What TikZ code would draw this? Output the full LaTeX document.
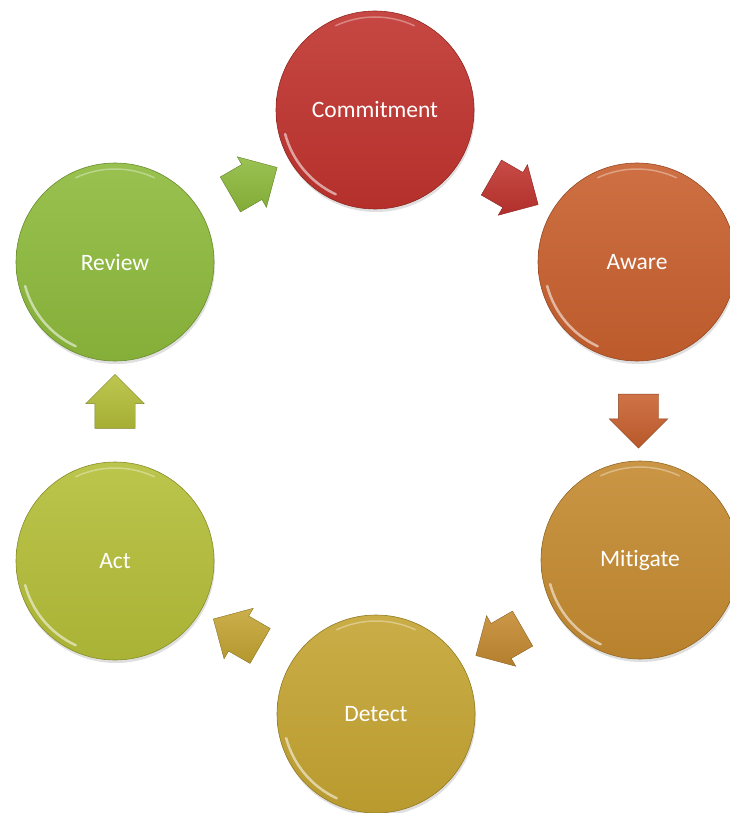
\documentclass[tikz,border=0pt]{standalone}
\usepackage{fontspec}
\setmainfont{Carlito}[Ligatures=NoCommon]
\usetikzlibrary{shapes.arrows,calc,shadows}
\definecolor{cRed}{HTML}{C0332E}
\definecolor{cOrange}{HTML}{C8602E}
\definecolor{cAmber}{HTML}{C48A30}
\definecolor{cMustard}{HTML}{C4A432}
\definecolor{cLime}{HTML}{B4BE38}
\definecolor{cGreen}{HTML}{8DBA3C}
\begin{document}
\begin{tikzpicture}[x=1pt,y=-1pt,
  stage/.style={circle, minimum size=198pt, inner sep=0pt, text=white,
    font=\fontsize{23.5}{28}\selectfont,
    top color=#1!90!white, bottom color=#1!94!black, draw=#1!75!black, line width=0.6pt,
    drop shadow={opacity=0.25, shadow xshift=1pt, shadow yshift=-3pt}},
  flow/.style={single arrow, minimum height=54pt, minimum width=58pt,
    single arrow head extend=9pt, inner xsep=0pt, inner ysep=20pt,
    top color=#1!88!white, bottom color=#1!92!black, draw=#1!70!black, line width=0.4pt},
  shine/.style={white, line width=2.5pt, opacity=0.55, line cap=round},
  glint/.style={white, line width=1.5pt, opacity=0.35, line cap=round}]
\useasboundingbox (0,0) rectangle (729,813);

\node[stage=cRed]     (com) at (375,110) {Commitment};
\node[stage=cOrange]  (awa) at (637,262) {Aware};
\node[stage=cAmber]   (mit) at (640,560) {Mitigate};
\node[stage=cMustard] (det) at (376,714) {Detect};
\node[stage=cLime]    (act) at (115,561) {Act};
\node[stage=cGreen]   (rev) at (115,262) {Review};

\foreach \n in {com,awa,mit,det,act,rev}{
  \draw[shine] ([shift={(195:93pt)}]\n.center) arc[start angle=195, end angle=245, radius=93pt];
  \draw[glint] ([shift={(65:93pt)}]\n.center) arc[start angle=65, end angle=115, radius=93pt];
}

\node[flow=cRed, rotate=-30]    (a1) at ($(com)!0.5!(awa)$) {};
\node[flow=cOrange, rotate=-90] (a2) at ($(awa)!0.5!(mit)$) {};
\node[flow=cAmber, rotate=-150] (a3) at ($(mit)!0.5!(det)$) {};
\node[flow=cMustard, rotate=150] (a4) at ($(det)!0.5!(act)$) {};
\node[flow=cLime, rotate=90]    (a5) at ($(act)!0.5!(rev)$) {};
\node[flow=cGreen, rotate=30]   (a6) at ($(rev)!0.5!(com)$) {};
\end{tikzpicture}
\end{document}
